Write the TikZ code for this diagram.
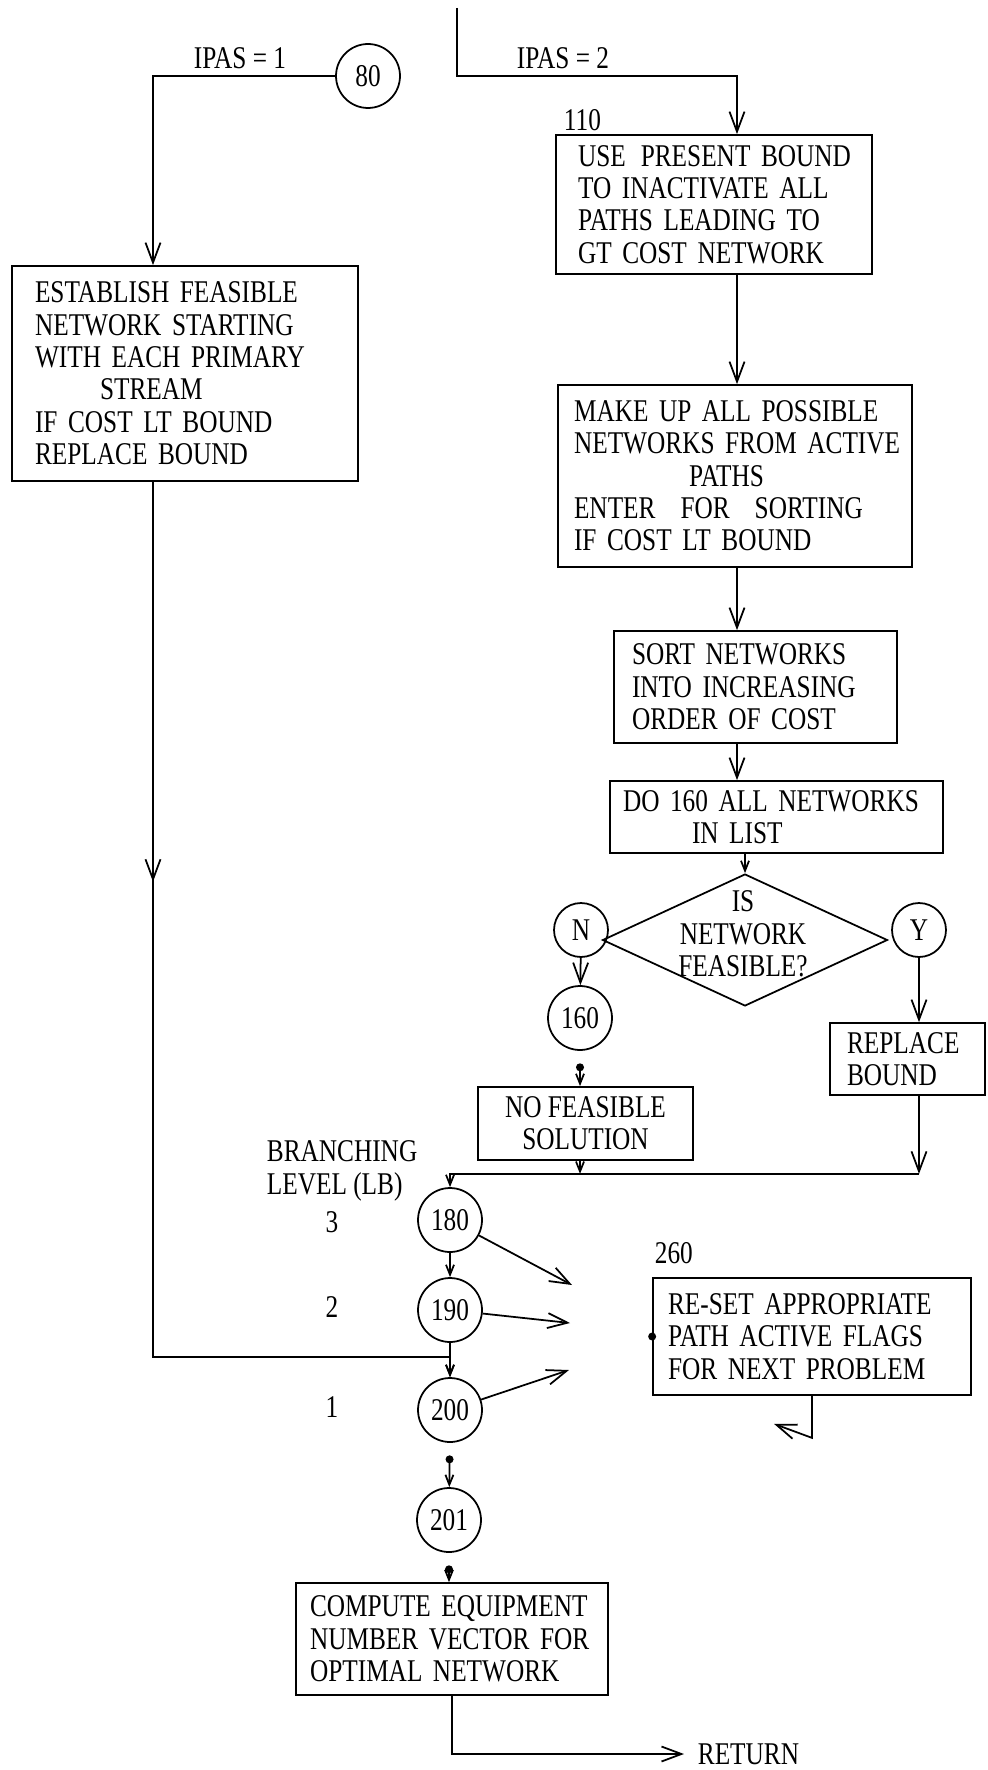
\documentclass[tikz,border=0pt]{standalone}
\usepackage{fontspec}
\setmainfont{Liberation Serif}[FakeStretch=0.8]
\usetikzlibrary{arrows.meta,positioning,shapes.geometric,decorations.markings,calc}
\hyphenpenalty=10000
\exhyphenpenalty=10000

\begin{document}
\begin{tikzpicture}[
    x=0.02cm, y=-0.02cm,
    font=\fontsize{18}{18.4}\selectfont,
    line width=1pt,
    box/.style={draw, rectangle, align=left, inner ysep=0pt},
    conn/.style={draw, circle, minimum size=1.28cm, inner sep=0pt},
    yesno/.style={draw, circle, minimum size=1.08cm, inner sep=0pt},
    arr/.style={-{Straight Barb[length=4mm,width=3mm]}},
    sarr/.style={-{Straight Barb[length=2mm,width=1.6mm]}},
    dotarr/.style={{Circle[length=4.5pt]}-{Straight Barb[length=2mm,width=1.6mm]}, shorten <=0.25cm},
    midarr/.style={postaction={decorate}, decoration={markings, mark=at position #1 with {\arrow{Straight Barb[length=4mm,width=3mm]}}}}
]
\useasboundingbox (0,0) rectangle (987,1770);

% entry and first pass
\coordinate (entry) at (457,8);
\coordinate (lcol) at (153,76);
\coordinate (rcol) at (737,76);
\node[conn] (c80) at (368,76) {80};
\node (ipas1) at (240,58) {IPAS~=~1};
\node (ipas2) at (563,58) {IPAS~=~2};

\node[box, text width=6cm, inner xsep=0.46cm, minimum height=4.3cm] (est) at (185,373.5)
    {ESTABLISH~FEASIBLE\\NETWORK~STARTING\\WITH~EACH~PRIMARY\\\hspace*{1.3cm}STREAM\\IF~COST~LT~BOUND\\REPLACE~BOUND};

% second pass
\node[box, text width=5.44cm, inner xsep=0.44cm, minimum height=2.78cm] (b110) at (714,204.5)
    {USE\nobreak\hspace{0.3cm}PRESENT~BOUND\\TO~INACTIVATE~ALL\\PATHS~LEADING~TO\\GT~COST~NETWORK};
\node[anchor=base west, inner sep=0pt] (l110) at (563,131) {110};
\node[box, text width=6.44cm, inner xsep=0.32cm, minimum height=3.64cm] (bmake) at (735,476)
    {MAKE~UP~ALL~POSSIBLE\\NETWORKS~FROM~ACTIVE\\\hspace*{2.3cm}PATHS\\ENTER\nobreak\hspace{0.5cm}FOR\nobreak\hspace{0.5cm}SORTING\\IF~COST~LT~BOUND};
\node[box, text width=4.94cm, inner xsep=0.36cm, minimum height=2.24cm] (bsort) at (755.5,687)
    {SORT~NETWORKS\\INTO~INCREASING\\ORDER~OF~COST};
\node[box, text width=6.14cm, inner xsep=0.26cm, minimum height=1.44cm] (bdo) at (776.5,817)
    {DO~160~ALL~NETWORKS\\\hspace*{1.38cm}IN~LIST};

% feasibility test
\node[diamond, draw, minimum width=5.7cm, minimum height=2.64cm, inner sep=0pt] (dfeas) at (745,940) {};
\node[align=center] (qfeas) at (743,934) {IS\\NETWORK\\FEASIBLE?};
\node[yesno] (cN) at (581,930) {N};
\node[yesno] (cY) at (919,930) {Y};
\node[conn] (c160) at (580,1018) {160};
\node[box, align=center, minimum width=4.3cm, minimum height=1.46cm] (bnofeas) at (585.5,1123.5) {NO~FEASIBLE\\SOLUTION};
\node[box, text width=2.42cm, inner xsep=0.34cm, minimum height=1.44cm] (brepl) at (907.5,1059) {REPLACE\\BOUND};

% branching levels
\node[anchor=west, align=left, inner sep=0pt] (lbranch) at (266,1171) {BRANCHING\\LEVEL~(LB)};
\node[conn] (c180) at (450,1220) {180};
\node[conn] (c190) at (450,1310) {190};
\node[conn] (c200) at (450,1410) {200};
\node (lv3) at (332,1222) {3};
\node (lv2) at (332,1307) {2};
\node (lv1) at (332,1407) {1};

\node[box, text width=5.76cm, inner xsep=0.3cm, minimum height=2.34cm] (bres) at (812,1336.5)
    {RE-SET~APPROPRIATE\\PATH~ACTIVE~FLAGS\\FOR~NEXT~PROBLEM};
\node[anchor=base west, inner sep=0pt] (l260) at (654,1263) {260};

\node[conn] (c201) at (449,1520) {201};
\node[box, text width=5.68cm, inner xsep=0.28cm, minimum height=2.24cm] (bcomp) at (452,1639)
    {COMPUTE~EQUIPMENT\\NUMBER~VECTOR~FOR\\OPTIMAL~NETWORK};
\node[anchor=west, inner xsep=0.26cm, inner ysep=0pt] (ret) at (684,1754) {RETURN};

\coordinate (t180) at (572,1285);
\coordinate (t190) at (570,1323);
\coordinate (t200) at (569,1370);
\coordinate (mrg) at ($(cY |- brepl.south)+(0,78)$);
\coordinate (rbend) at ($(bres.south)+(0,42)$);
\coordinate (rtip) at ($(rbend)+(-38,-14)$);

% connectors
\draw[arr] (entry) |- (rcol) -- (b110.north -| rcol);
\draw[arr] (c80.west) -| (est.north -| lcol);
\draw[arr] (b110.south -| rcol) -- (bmake.north -| rcol);
\draw[arr] (bmake.south -| rcol) -- (bsort.north -| rcol);
\draw[arr] (bsort.south -| rcol) -- (bdo.north -| rcol);
\draw[sarr] (bdo.south -| dfeas.north) -- (dfeas.north);
\draw[arr] (cN) -- (c160);
\draw[arr] (cY) -- (cY |- brepl.north);
\draw[dotarr] (c160) -- (bnofeas.north -| c160);
\draw[arr] (cY |- brepl.south) -- (mrg);
\draw[sarr] (mrg) -| (c180.north);
\draw[sarr] (bnofeas.south -| c160) -- (c160 |- mrg);
\draw[sarr] (c180) -- (c190);
\draw[sarr] (c190) -- (c200);
\draw[sarr, midarr=8cm] (est.south -| lcol) |- ($(c200.north)+(0,-20)$) -- (c200.north);
\draw[arr] (c180) -- (t180);
\draw[arr] (c190) -- (t190);
\draw[arr] (c200) -- (t200);
\fill (bres.west) circle[radius=0.08cm];
\draw[arr] (bres.south) -- (rbend) -- (rtip);
\draw[dotarr] (c200) -- (c201);
\draw[dotarr] (c201) -- (bcomp.north -| c201);
\draw[arr] (bcomp.south) |- (ret.west);

\end{tikzpicture}
\end{document}
